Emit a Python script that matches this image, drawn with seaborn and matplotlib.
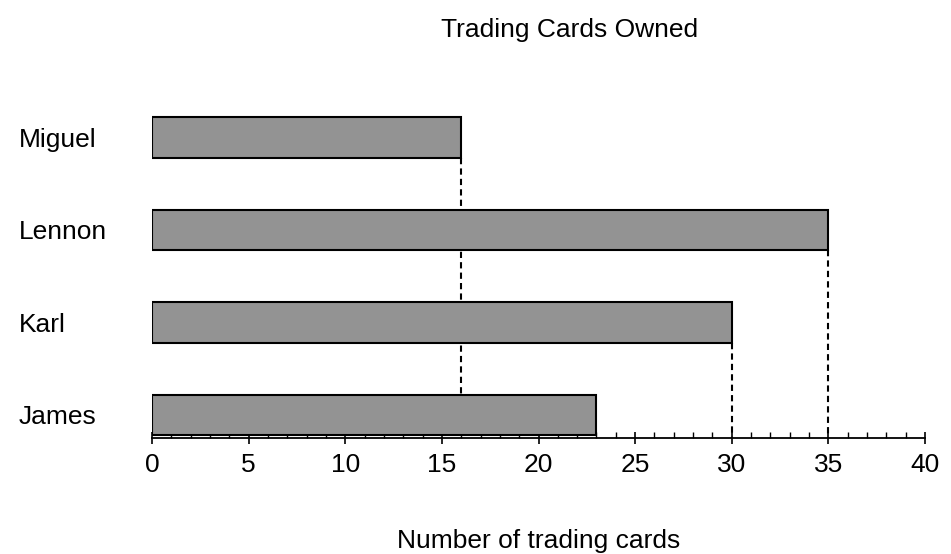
import pandas as pd
import matplotlib.pyplot as plt
import seaborn as sns
from matplotlib.ticker import MultipleLocator

# data
names = ['Miguel', 'Lennon', 'Karl', 'James']
cards = [16, 35, 30, 23]
guide_names = ['Miguel', 'Lennon', 'Karl']  # bars with dashed drop lines
x_ticks = [0, 5, 10, 15, 20, 25, 30, 35, 40]

df = pd.DataFrame({'name': names, 'cards': cards})

sns.set_style('white')
plt.rcParams['font.family'] = ['Liberation Sans', 'DejaVu Sans']
plt.rcParams.update({'text.color': 'black', 'axes.labelcolor': 'black',
                     'xtick.color': 'black', 'ytick.color': 'black'})

fig = plt.figure(figsize=(9.51, 5.54), dpi=100)
ax = fig.add_axes([152 / 951, 1 - 438 / 554, (925 - 152) / 951, 338 / 554])

bar_h = 0.44
sns.barplot(data=df, x='cards', y='name', order=names, orient='h',
            color='#939393', edgecolor='black', linewidth=1.5,
            width=bar_h, saturation=1, ax=ax, zorder=3)

ax.set_xlim(0, 40)
ax.set_ylim(3.25, -0.404)

# dashed drop lines from bar ends down to the axis
for nm in guide_names:
    i = names.index(nm)
    ax.vlines(cards[i], i + bar_h / 2, 3.25, colors='black',
              linestyles=(0, (3, 2)), linewidth=1.5, zorder=2)

for s in ['top', 'right', 'left']:
    ax.spines[s].set_visible(False)
ax.spines['bottom'].set_linewidth(1.3)
ax.spines['bottom'].set_color('black')

ax.set_xticks(x_ticks)
ax.xaxis.set_minor_locator(MultipleLocator(1))
ax.tick_params(axis='x', which='major', direction='inout', length=9,
               width=1.2, labelsize=19, pad=6, bottom=True)
ax.tick_params(axis='x', which='minor', direction='in', length=4,
               width=1, bottom=True)
ax.tick_params(axis='y', length=0, labelsize=19, pad=96)
for lab in ax.get_yticklabels():
    lab.set_ha('left')

ax.set_ylabel('')
ax.set_xlabel('Number of trading cards', fontsize=19, labelpad=38)
fig.text(570 / 951, 1 - 30 / 554, 'Trading Cards Owned', fontsize=19,
         ha='center', va='center')

fig.savefig('out.png', dpi=100)
